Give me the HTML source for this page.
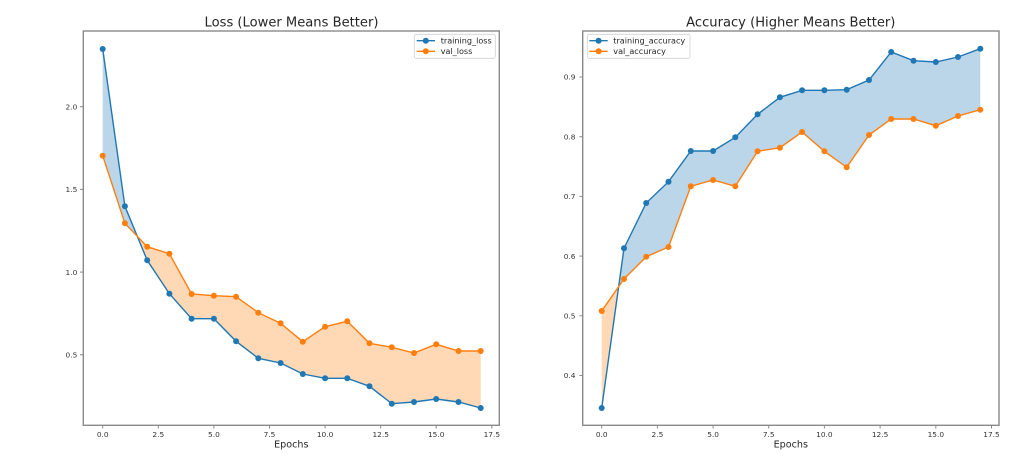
<!DOCTYPE html>
<html><head><meta charset="utf-8"><style>
html,body{margin:0;padding:0;background:#fff;}
svg{display:block;}
text{font-family:"DejaVu Sans","Liberation Sans",sans-serif;fill:#262626;}
.tk{font-size:7.4px;fill:#333;}
.lg{font-size:8.1px;}
.tt{font-size:13.1px;}
.xl{font-size:9.6px;}
</style></head><body>
<svg width="1011" height="456" viewBox="0 0 1011 456" xmlns="http://www.w3.org/2000/svg">
<rect width="1011" height="456" fill="#fff"/>

<!-- ===== LEFT: LOSS ===== -->
<text class="tt" x="291.5" y="26.7" text-anchor="middle">Loss (Lower Means Better)</text>
<polygon fill="#1f77b4" fill-opacity="0.3" points="102.7,49 124.9,206.3 137.3,236.3 124.9,223.3 102.7,155.7"/>
<polygon fill="#ff7f0e" fill-opacity="0.3" points="137.3,236.3 147.2,260.3 169.4,293.7 191.6,318.7 213.9,318.7 236.1,341.3 258.3,358.3 280.6,363 302.8,374 325.1,378.3 347.3,378.3 369.5,386.3 391.8,403.7 414.0,402 436.2,399 458.5,402 480.7,408 480.7,351 458.5,351 436.2,344.3 414.0,353 391.8,347.3 369.5,343.3 347.3,321.3 325.1,326.7 302.8,341.7 280.6,323.3 258.3,312.7 236.1,296.7 213.9,295.7 191.6,294 169.4,253.7 147.2,246.7"/>
<polyline fill="none" stroke="#1f77b4" stroke-width="1.4" points="102.7,49 124.9,206.3 147.2,260.3 169.4,293.7 191.6,318.7 213.9,318.7 236.1,341.3 258.3,358.3 280.6,363 302.8,374 325.1,378.3 347.3,378.3 369.5,386.3 391.8,403.7 414.0,402 436.2,399 458.5,402 480.7,408"/>
<g fill="#1f77b4">
<circle cx="102.7" cy="49" r="3"/><circle cx="124.9" cy="206.3" r="3"/><circle cx="147.2" cy="260.3" r="3"/><circle cx="169.4" cy="293.7" r="3"/><circle cx="191.6" cy="318.7" r="3"/><circle cx="213.9" cy="318.7" r="3"/><circle cx="236.1" cy="341.3" r="3"/><circle cx="258.3" cy="358.3" r="3"/><circle cx="280.6" cy="363" r="3"/><circle cx="302.8" cy="374" r="3"/><circle cx="325.1" cy="378.3" r="3"/><circle cx="347.3" cy="378.3" r="3"/><circle cx="369.5" cy="386.3" r="3"/><circle cx="391.8" cy="403.7" r="3"/><circle cx="414.0" cy="402" r="3"/><circle cx="436.2" cy="399" r="3"/><circle cx="458.5" cy="402" r="3"/><circle cx="480.7" cy="408" r="3"/>
</g>
<polyline fill="none" stroke="#ff7f0e" stroke-width="1.4" points="102.7,155.7 124.9,223.3 147.2,246.7 169.4,253.7 191.6,294 213.9,295.7 236.1,296.7 258.3,312.7 280.6,323.3 302.8,341.7 325.1,326.7 347.3,321.3 369.5,343.3 391.8,347.3 414.0,353 436.2,344.3 458.5,351 480.7,351"/>
<g fill="#ff7f0e">
<circle cx="102.7" cy="155.7" r="3"/><circle cx="124.9" cy="223.3" r="3"/><circle cx="147.2" cy="246.7" r="3"/><circle cx="169.4" cy="253.7" r="3"/><circle cx="191.6" cy="294" r="3"/><circle cx="213.9" cy="295.7" r="3"/><circle cx="236.1" cy="296.7" r="3"/><circle cx="258.3" cy="312.7" r="3"/><circle cx="280.6" cy="323.3" r="3"/><circle cx="302.8" cy="341.7" r="3"/><circle cx="325.1" cy="326.7" r="3"/><circle cx="347.3" cy="321.3" r="3"/><circle cx="369.5" cy="343.3" r="3"/><circle cx="391.8" cy="347.3" r="3"/><circle cx="414.0" cy="353" r="3"/><circle cx="436.2" cy="344.3" r="3"/><circle cx="458.5" cy="351" r="3"/><circle cx="480.7" cy="351" r="3"/>
</g>
<rect x="83.3" y="31" width="416" height="394.3" fill="none" stroke="#8a8a8a" stroke-width="1.4"/>
<g stroke="#8a8a8a" stroke-width="1">
<line x1="80" y1="106.7" x2="83.3" y2="106.7"/><line x1="80" y1="189.4" x2="83.3" y2="189.4"/><line x1="80" y1="272.1" x2="83.3" y2="272.1"/><line x1="80" y1="354.8" x2="83.3" y2="354.8"/>
<line x1="102.7" y1="425.3" x2="102.7" y2="428.5"/><line x1="158.3" y1="425.3" x2="158.3" y2="428.5"/><line x1="213.9" y1="425.3" x2="213.9" y2="428.5"/><line x1="269.5" y1="425.3" x2="269.5" y2="428.5"/><line x1="325.1" y1="425.3" x2="325.1" y2="428.5"/><line x1="380.7" y1="425.3" x2="380.7" y2="428.5"/><line x1="436.2" y1="425.3" x2="436.2" y2="428.5"/><line x1="491.8" y1="425.3" x2="491.8" y2="428.5"/>
</g>
<g text-anchor="end">
<text class="tk" x="77.3" y="109.4">2.0</text><text class="tk" x="77.3" y="192.1">1.5</text><text class="tk" x="77.3" y="274.8">1.0</text><text class="tk" x="77.3" y="357.5">0.5</text>
</g>
<g text-anchor="middle">
<text class="tk" x="102.7" y="437.2">0.0</text><text class="tk" x="158.3" y="437.2">2.5</text><text class="tk" x="213.9" y="437.2">5.0</text><text class="tk" x="269.5" y="437.2">7.5</text><text class="tk" x="325.1" y="437.2">10.0</text><text class="tk" x="380.7" y="437.2">12.5</text><text class="tk" x="436.2" y="437.2">15.0</text><text class="tk" x="491.8" y="437.2">17.5</text>
</g>
<text class="xl" x="291.3" y="447.5" text-anchor="middle">Epochs</text>
<rect x="414.3" y="34.3" width="81" height="24" rx="2" fill="#fff" fill-opacity="0.8" stroke="#d0d0d0" stroke-width="0.8"/>
<line x1="416.7" y1="40.7" x2="435" y2="40.7" stroke="#1f77b4" stroke-width="1.4"/><circle cx="425.8" cy="40.7" r="3" fill="#1f77b4"/>
<line x1="416.7" y1="51.3" x2="435" y2="51.3" stroke="#ff7f0e" stroke-width="1.4"/><circle cx="425.8" cy="51.3" r="3" fill="#ff7f0e"/>
<text class="lg" x="440.7" y="43.6">training_loss</text>
<text class="lg" x="440.7" y="54.2">val_loss</text>

<!-- ===== RIGHT: ACCURACY ===== -->
<text class="tt" x="790.8" y="26.7" text-anchor="middle">Accuracy (Higher Means Better)</text>
<polygon fill="#ff7f0e" fill-opacity="0.3" points="601.7,311 618.6,286.7 601.7,408"/>
<polygon fill="#1f77b4" fill-opacity="0.3" points="618.6,286.7 624.0,248.3 646.2,203 668.5,181.7 690.8,151 713.1,151 735.3,137.3 757.6,114.3 779.9,97.3 802.1,90.3 824.4,90.3 846.7,89.7 869.0,80 891.2,52 913.5,60.7 935.8,62 958.0,57 980.3,48.7 980.3,109.7 958.0,116 935.8,125.7 913.5,119 891.2,119 869.0,135 846.7,167.3 824.4,151.3 802.1,132 779.9,147.7 757.6,151.3 735.3,186.3 713.1,180 690.8,186.3 668.5,247 646.2,256.7 624.0,279"/>
<polyline fill="none" stroke="#1f77b4" stroke-width="1.4" points="601.7,408 624.0,248.3 646.2,203 668.5,181.7 690.8,151 713.1,151 735.3,137.3 757.6,114.3 779.9,97.3 802.1,90.3 824.4,90.3 846.7,89.7 869.0,80 891.2,52 913.5,60.7 935.8,62 958.0,57 980.3,48.7"/>
<g fill="#1f77b4">
<circle cx="601.7" cy="408" r="3"/><circle cx="624.0" cy="248.3" r="3"/><circle cx="646.2" cy="203" r="3"/><circle cx="668.5" cy="181.7" r="3"/><circle cx="690.8" cy="151" r="3"/><circle cx="713.1" cy="151" r="3"/><circle cx="735.3" cy="137.3" r="3"/><circle cx="757.6" cy="114.3" r="3"/><circle cx="779.9" cy="97.3" r="3"/><circle cx="802.1" cy="90.3" r="3"/><circle cx="824.4" cy="90.3" r="3"/><circle cx="846.7" cy="89.7" r="3"/><circle cx="869.0" cy="80" r="3"/><circle cx="891.2" cy="52" r="3"/><circle cx="913.5" cy="60.7" r="3"/><circle cx="935.8" cy="62" r="3"/><circle cx="958.0" cy="57" r="3"/><circle cx="980.3" cy="48.7" r="3"/>
</g>
<polyline fill="none" stroke="#ff7f0e" stroke-width="1.4" points="601.7,311 624.0,279 646.2,256.7 668.5,247 690.8,186.3 713.1,180 735.3,186.3 757.6,151.3 779.9,147.7 802.1,132 824.4,151.3 846.7,167.3 869.0,135 891.2,119 913.5,119 935.8,125.7 958.0,116 980.3,109.7"/>
<g fill="#ff7f0e">
<circle cx="601.7" cy="311" r="3"/><circle cx="624.0" cy="279" r="3"/><circle cx="646.2" cy="256.7" r="3"/><circle cx="668.5" cy="247" r="3"/><circle cx="690.8" cy="186.3" r="3"/><circle cx="713.1" cy="180" r="3"/><circle cx="735.3" cy="186.3" r="3"/><circle cx="757.6" cy="151.3" r="3"/><circle cx="779.9" cy="147.7" r="3"/><circle cx="802.1" cy="132" r="3"/><circle cx="824.4" cy="151.3" r="3"/><circle cx="846.7" cy="167.3" r="3"/><circle cx="869.0" cy="135" r="3"/><circle cx="891.2" cy="119" r="3"/><circle cx="913.5" cy="119" r="3"/><circle cx="935.8" cy="125.7" r="3"/><circle cx="958.0" cy="116" r="3"/><circle cx="980.3" cy="109.7" r="3"/>
</g>
<rect x="582.7" y="31" width="416.3" height="394.3" fill="none" stroke="#8a8a8a" stroke-width="1.4"/>
<g stroke="#8a8a8a" stroke-width="1">
<line x1="579.4" y1="77" x2="582.7" y2="77"/><line x1="579.4" y1="136.7" x2="582.7" y2="136.7"/><line x1="579.4" y1="196.4" x2="582.7" y2="196.4"/><line x1="579.4" y1="256.1" x2="582.7" y2="256.1"/><line x1="579.4" y1="315.8" x2="582.7" y2="315.8"/><line x1="579.4" y1="375.5" x2="582.7" y2="375.5"/>
<line x1="601.7" y1="425.3" x2="601.7" y2="428.5"/><line x1="657.4" y1="425.3" x2="657.4" y2="428.5"/><line x1="713.1" y1="425.3" x2="713.1" y2="428.5"/><line x1="768.7" y1="425.3" x2="768.7" y2="428.5"/><line x1="824.4" y1="425.3" x2="824.4" y2="428.5"/><line x1="880.1" y1="425.3" x2="880.1" y2="428.5"/><line x1="935.8" y1="425.3" x2="935.8" y2="428.5"/><line x1="991.5" y1="425.3" x2="991.5" y2="428.5"/>
</g>
<g text-anchor="end">
<text class="tk" x="575.5" y="79.7">0.9</text><text class="tk" x="575.5" y="139.4">0.8</text><text class="tk" x="575.5" y="199.1">0.7</text><text class="tk" x="575.5" y="258.8">0.6</text><text class="tk" x="575.5" y="318.5">0.5</text><text class="tk" x="575.5" y="378.2">0.4</text>
</g>
<g text-anchor="middle">
<text class="tk" x="601.7" y="437.2">0.0</text><text class="tk" x="657.4" y="437.2">2.5</text><text class="tk" x="713.1" y="437.2">5.0</text><text class="tk" x="768.7" y="437.2">7.5</text><text class="tk" x="824.4" y="437.2">10.0</text><text class="tk" x="880.1" y="437.2">12.5</text><text class="tk" x="935.8" y="437.2">15.0</text><text class="tk" x="991.5" y="437.2">17.5</text>
</g>
<text class="xl" x="790.8" y="447.5" text-anchor="middle">Epochs</text>
<rect x="587.3" y="34.3" width="102.7" height="24" rx="2" fill="#fff" fill-opacity="0.8" stroke="#d0d0d0" stroke-width="0.8"/>
<line x1="589.3" y1="40.7" x2="607.7" y2="40.7" stroke="#1f77b4" stroke-width="1.4"/><circle cx="598.6" cy="40.7" r="3" fill="#1f77b4"/>
<line x1="589.3" y1="51.3" x2="607.7" y2="51.3" stroke="#ff7f0e" stroke-width="1.4"/><circle cx="598.6" cy="51.3" r="3" fill="#ff7f0e"/>
<text class="lg" x="613.3" y="43.6">training_accuracy</text>
<text class="lg" x="613.3" y="54.2">val_accuracy</text>
</svg>
</body></html>
